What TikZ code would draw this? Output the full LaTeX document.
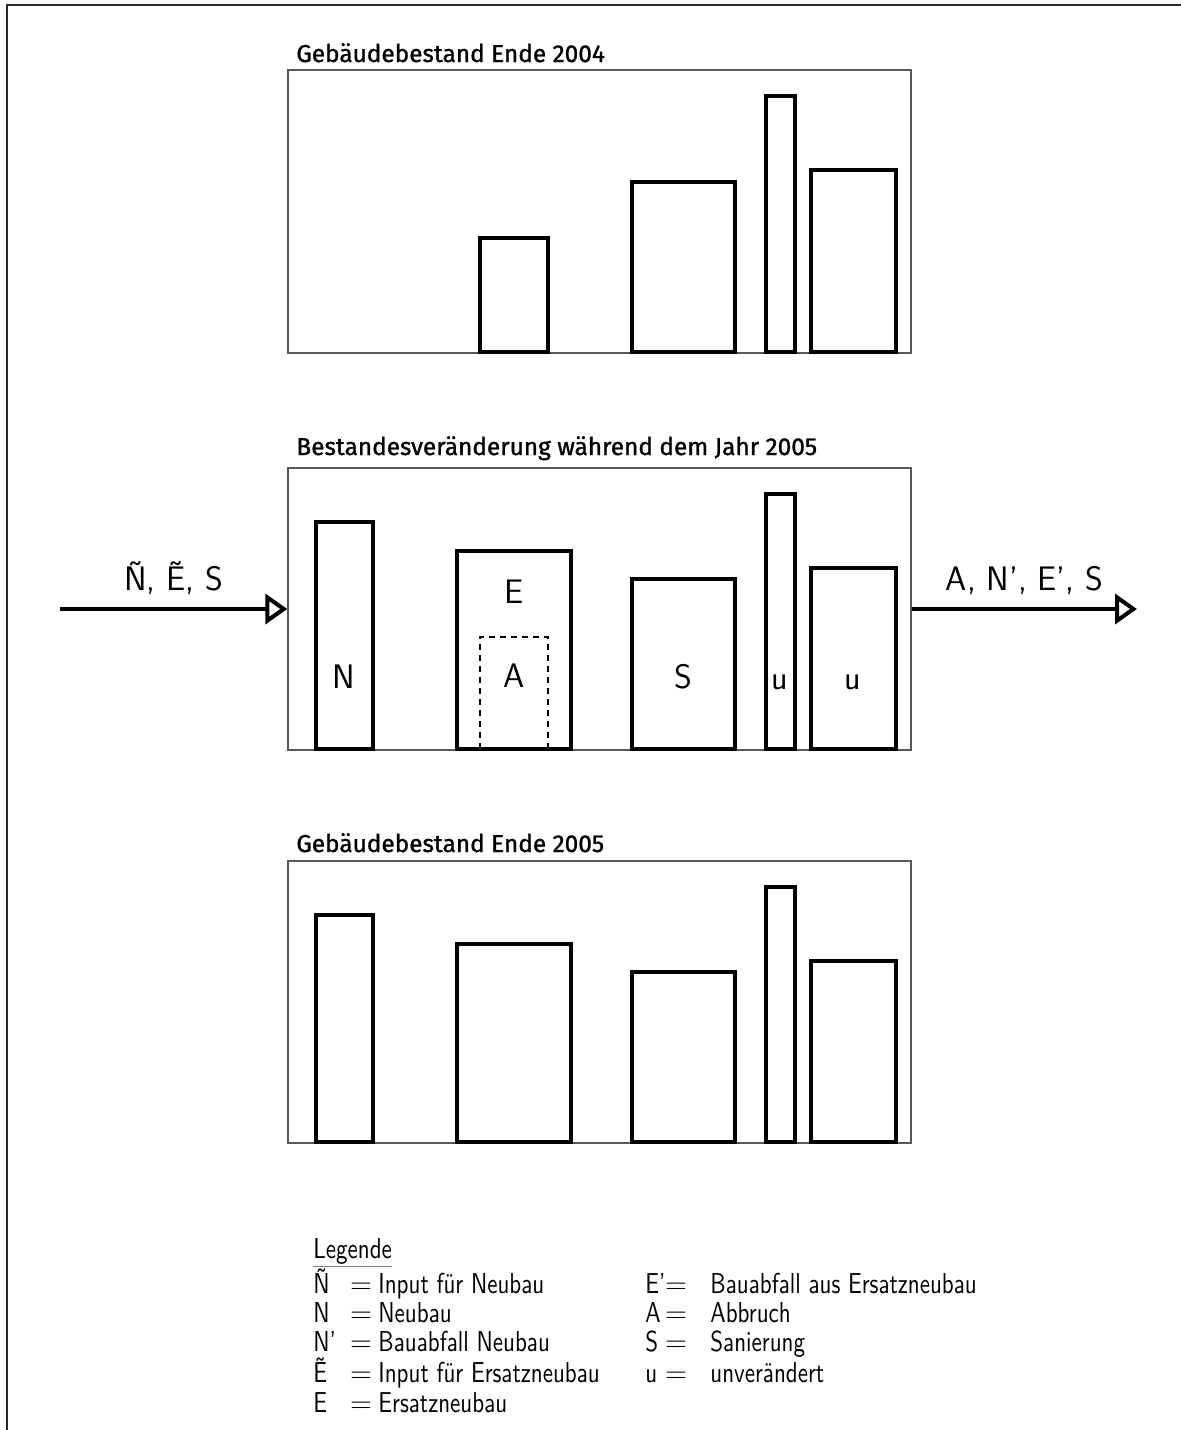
\documentclass[tikz,border=0pt]{standalone}
\usepackage{fontspec}
\usepackage{tikz}
\usetikzlibrary{arrows.meta, positioning, fit}
\newfontfamily\headfont{Fira Sans}[FakeBold=1.2]
\newfontfamily\legfam{lmsans10-regular.otf}[FakeStretch=0.8, Ligatures=TeX]
\newcommand{\legfont}{\legfam\fontsize{14.4}{17}\selectfont}

\begin{document}
\begin{tikzpicture}[x=0.5pt, y=-0.5pt,
    every node/.style={font=\sffamily\fontsize{17}{20}\selectfont, inner sep=0pt},
    panel/.style={draw=black!65, line width=0.7pt, inner sep=0pt},
    bldg/.style={draw, line width=1.8pt},
    razed/.style={draw, line width=1pt, dash pattern=on 3pt off 2.5pt},
    flow/.style={line width=2pt, -{Triangle[open, length=11pt, width=15pt]}},
    flowlabel/.style={anchor=base, yshift=9.5pt},
    paneltitle/.style={font=\headfont\fontsize{12.2}{14}\selectfont, anchor=base west},
    legentry/.style={font=\legfont, anchor=base west}]
    \useasboundingbox (0,0) rectangle (1181,1430);

    % Frame
    \draw[line width=1pt, black!85] (7,1430) -- (7,5) -- (1181,5);

    % Panels
    \node[panel, fit={(288,70) (911,353)}] (p04) {};
    \node[panel, fit={(288,468) (911,750)}] (p05) {};
    \node[panel, fit={(288,861) (911,1143)}] (e05) {};
    \node[paneltitle] (t04) at (296,62) {Gebäudebestand Ende 2004};
    \node[paneltitle] (t05) at (296,455) {Bestandesveränderung während dem Jahr 2005};
    \node[paneltitle] (te05) at (296,852) {Gebäudebestand Ende 2005};

    % Buildings end of 2004
    \foreach \xa/\ya/\xb in {480/238/548, 632/182/735, 766/96/795, 811/170/896}
        \draw[bldg] (\xa,352) rectangle (\xb,\ya);

    % Changes during 2005
    \draw[bldg] (316,749) rectangle (373,522);
    \draw[bldg] (457,749) rectangle (571,551);
    \draw[razed] (480,749) rectangle (548,637);
    \draw[bldg] (632,749) rectangle (735,579);
    \draw[bldg] (766,749) rectangle (795,494);
    \draw[bldg] (811,749) rectangle (896,568);
    \node[anchor=base] (lN) at (344,688) {N};
    \node[anchor=base] (lE) at (514,603) {E};
    \node[anchor=base] (lA) at (514,687) {A};
    \node[anchor=base] (lS) at (683,688) {S};
    \node[anchor=base] (lu1) at (780,689) {u};
    \node[anchor=base] (lu2) at (853,689) {u};

    % Buildings end of 2005
    \foreach \xa/\ya/\xb in {316/915/373, 457/944/571, 632/972/735, 766/887/795, 811/961/896}
        \draw[bldg] (\xa,1142) rectangle (\xb,\ya);

    % Flows in and out
    \coordinate (src) at (60,609);
    \coordinate (sink) at (1137,609);
    \draw[flow] (src) -- node[flowlabel] (inlab) {\~{N}, \~{E}, S} (p05.west);
    \draw[flow] (p05.east) -- node[flowlabel] (outlab) {A, N’, E’, S} (sink);

    % Legend
    \node[legentry] (leg) at (313,1258) {Legende};
    \draw[black!50, line width=0.8pt] ([yshift=-1pt]leg.south west) -- ([yshift=-1pt]leg.south east);
    \foreach \y/\sym/\txt [count=\i] in {1293/\~{N}/Input für Neubau, 1322/N/Neubau,
        1351/N’/Bauabfall Neubau, 1382/\~{E}/Input für Ersatzneubau, 1412/E/Ersatzneubau} {
        \node[legentry] (syma\i) at (313,\y) {\sym};
        \node[legentry, anchor=base] (eqa\i) at (361,\y) {$=$};
        \node[legentry] (txta\i) at (378,\y) {\txt};
    }
    \foreach \y/\sym/\txt [count=\i] in {1293/E’/Bauabfall aus Ersatzneubau, 1322/A/Abbruch,
        1351/S/Sanierung, 1382/u/unverändert} {
        \node[legentry] (symb\i) at (645,\y) {\sym};
        \node[legentry, anchor=base] (eqb\i) at (676,\y) {$=$};
        \node[legentry] (txtb\i) at (710,\y) {\txt};
    }
\end{tikzpicture}
\end{document}
